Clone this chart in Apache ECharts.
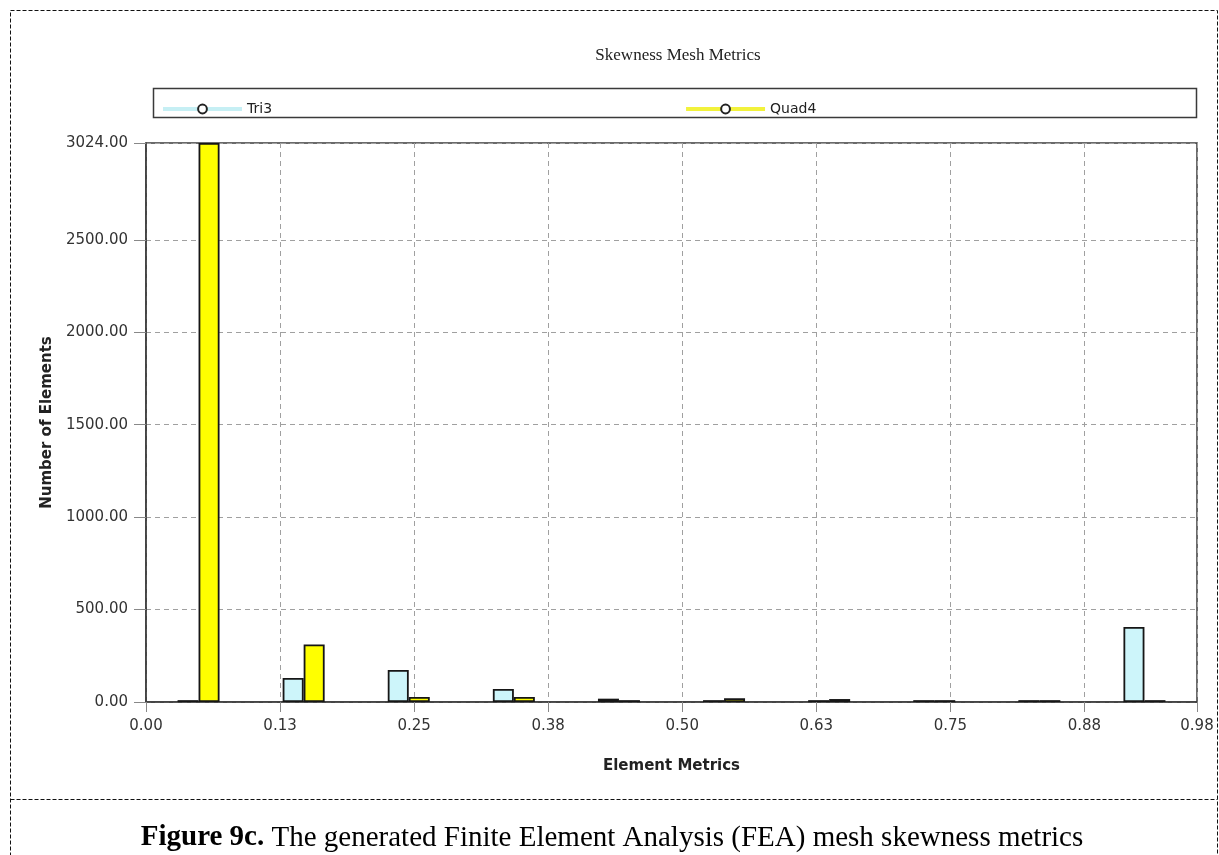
<!DOCTYPE html>
<html>
<head>
<meta charset="utf-8">
<script src="https://cdn.jsdelivr.net/npm/echarts@6/dist/echarts.min.js"></script>
<style>
  html, body { margin: 0; padding: 0; background: #ffffff; }
  #chart { width: 1219px; height: 855px; }
</style>
</head>
<body>
<div id="chart"></div>
<script>
// Histogram bins (centre of each skewness bin) and element counts per bin
const binCenters = [0.049, 0.147, 0.245, 0.343, 0.441, 0.539, 0.637, 0.735, 0.833, 0.931];
const tri3Counts = [10, 130, 173, 70, 18, 10, 10, 10, 10, 406];
const quad4Counts = [3024, 311, 27, 27, 10, 20, 16, 10, 10, 10];

// Axis ticks
const yTickValues = [0, 500, 1000, 1500, 2000, 2500, 3024];
const yMax = 3024;
const xMax = 0.98;
const xTickStep = 0.125;

const seriesNames = ['Tri3', 'Quad4'];

const TRI_FILL = '#cdf5fa';
const QUAD_FILL = '#ffff00';
const EDGE = '#161616';
const SANS = '"DejaVu Sans", "Noto Sans", sans-serif';
const SERIF = '"Liberation Serif", "DejaVu Serif", serif';

const toPairs = (xs, ys) => xs.map((x, i) => [x, ys[i]]);

const chart = echarts.init(document.getElementById('chart'), null, { renderer: 'canvas' });

const option = {
  backgroundColor: '#ffffff',
  animation: false,
  title: {
    text: 'Skewness Mesh Metrics',
    left: 673,
    textAlign: 'center',
    top: 42,
    textStyle: { fontFamily: SERIF, fontWeight: 'normal', fontSize: 17, color: '#222' }
  },
  legend: {
    data: seriesNames,
    left: 156,
    top: 97,
    itemWidth: 79,
    itemHeight: 11,
    itemGap: 412,
    lineStyle: { width: 4 },
    textStyle: { fontFamily: SANS, fontSize: 14, color: '#222' }
  },
  grid: {
    left: 146,
    right: 22,
    top: 143,
    bottom: 153,
    show: true,
    borderColor: '#3a3a3a',
    borderWidth: 1.5,
    containLabel: false
  },
  xAxis: {
    type: 'value',
    min: 0,
    max: xMax,
    interval: xTickStep,
    name: 'Element Metrics',
    nameLocation: 'middle',
    nameGap: 57,
    nameTextStyle: { fontFamily: SANS, fontSize: 15, fontWeight: 'bold', color: '#222' },
    axisLine: { show: true, lineStyle: { color: '#3a3a3a', width: 1.5 } },
    axisTick: { show: true, inside: false, length: 10, lineStyle: { color: '#888' } },
    axisLabel: {
      margin: 17,
      fontFamily: SANS,
      fontSize: 15,
      color: '#333',
      formatter: v => v.toFixed(2)
    },
    splitLine: { show: true, lineStyle: { color: '#a0a0a0', type: [5, 4], width: 1 } }
  },
  yAxis: {
    type: 'value',
    min: 0,
    max: yMax,
    name: 'Number of Elements',
    nameLocation: 'middle',
    nameGap: 88,
    nameTextStyle: { fontFamily: SANS, fontSize: 15, fontWeight: 'bold', color: '#222' },
    axisLine: { show: true, lineStyle: { color: '#3a3a3a', width: 1.5 } },
    axisTick: { show: true, inside: false, length: 12, customValues: yTickValues, lineStyle: { color: '#888' } },
    axisLabel: {
      margin: 18,
      fontFamily: SANS,
      fontSize: 15,
      color: '#333',
      customValues: yTickValues,
      formatter: v => v.toFixed(2)
    },
    splitLine: { show: true, lineStyle: { color: '#a0a0a0', type: [5, 4], width: 1 } }
  },
  series: [
    // legend keys: line with a ring marker
    {
      name: 'Tri3', type: 'line', data: [],
      symbol: 'emptyCircle', symbolSize: 8,
      lineStyle: { color: '#c6eff4', width: 4 },
      itemStyle: { color: '#222' }
    },
    {
      name: 'Quad4', type: 'line', data: [],
      symbol: 'emptyCircle', symbolSize: 8,
      lineStyle: { color: '#f2f23c', width: 4 },
      itemStyle: { color: '#222' }
    },
    {
      name: 'Tri3', type: 'bar',
      data: toPairs(binCenters, tri3Counts),
      barWidth: 21,
      barGap: '0%',
      itemStyle: { color: TRI_FILL, borderColor: EDGE, borderWidth: 1.8 }
    },
    {
      name: 'Quad4', type: 'bar',
      data: toPairs(binCenters, quad4Counts),
      barWidth: 21,
      barGap: '0%',
      itemStyle: { color: QUAD_FILL, borderColor: EDGE, borderWidth: 1.8 }
    }
  ],
  graphic: [
    // dashed figure frame
    {
      type: 'rect', silent: true,
      shape: { x: 10.5, y: 10.5, width: 1207, height: 860 },
      style: { fill: null, stroke: '#111', lineWidth: 1, lineDash: [4, 2] }
    },
    {
      type: 'line', silent: true,
      shape: { x1: 10.5, y1: 799.5, x2: 1217.5, y2: 799.5 },
      style: { stroke: '#111', lineWidth: 1, lineDash: [4, 2] }
    },
    // legend box
    {
      type: 'rect', silent: true,
      shape: { x: 153.5, y: 88.5, width: 1043, height: 29 },
      style: { fill: null, stroke: '#3a3a3a', lineWidth: 1.5 }
    },
    // figure caption
    {
      type: 'text', silent: true,
      x: 612, y: 838,
      style: {
        text: '{b|Figure 9c.} The generated Finite Element Analysis (FEA) mesh skewness metrics',
        fontFamily: SERIF,
        fontSize: 29,
        fill: '#000',
        align: 'center',
        verticalAlign: 'middle',
        rich: {
          b: { fontFamily: SERIF, fontSize: 29, fontWeight: 'bold', fill: '#000' }
        }
      }
    }
  ]
};

chart.setOption(option);
</script>
</body>
</html>
